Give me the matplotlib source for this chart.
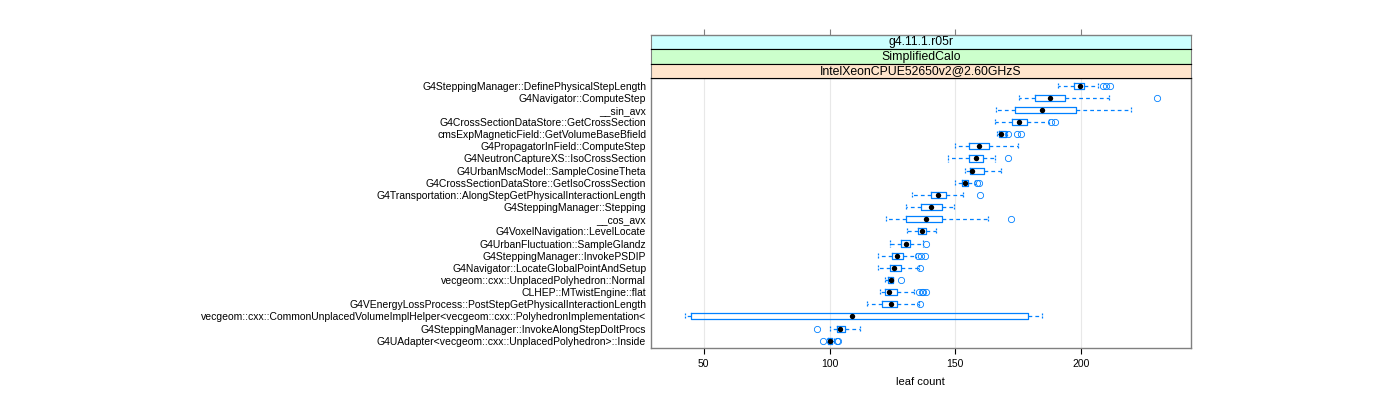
import numpy as np
import matplotlib
matplotlib.use('Agg')
import matplotlib.pyplot as plt

plt.rcParams['font.family'] = ['Liberation Sans', 'DejaVu Sans']

# function names, top to bottom
functions = [
    'G4SteppingManager::DefinePhysicalStepLength',
    'G4Navigator::ComputeStep',
    '__sin_avx',
    'G4CrossSectionDataStore::GetCrossSection',
    'cmsExpMagneticField::GetVolumeBaseBfield',
    'G4PropagatorInField::ComputeStep',
    'G4NeutronCaptureXS::IsoCrossSection',
    'G4UrbanMscModel::SampleCosineTheta',
    'G4CrossSectionDataStore::GetIsoCrossSection',
    'G4Transportation::AlongStepGetPhysicalInteractionLength',
    'G4SteppingManager::Stepping',
    '__cos_avx',
    'G4VoxelNavigation::LevelLocate',
    'G4UrbanFluctuation::SampleGlandz',
    'G4SteppingManager::InvokePSDIP',
    'G4Navigator::LocateGlobalPointAndSetup',
    'vecgeom::cxx::UnplacedPolyhedron::Normal',
    'CLHEP::MTwistEngine::flat',
    'G4VEnergyLossProcess::PostStepGetPhysicalInteractionLength',
    'vecgeom::cxx::CommonUnplacedVolumeImplHelper<vecgeom::cxx::PolyhedronImplementation<',
    'G4SteppingManager::InvokeAlongStepDoItProcs',
    'G4UAdapter<vecgeom::cxx::UnplacedPolyhedron>::Inside',
]

# box stats (leaf count)
whislo = [190.8, 175.3, 166.3, 165.6, 166.7, 149.7, 147.2, 153.7, 150.0, 132.9, 130.2,
          122.6, 130.6, 124.2, 119.4, 119.3, 122.0, 120.2, 115.0, 42.6, 100.1, 99.0]
q1 = [197.0, 181.5, 173.5, 172.6, 167.3, 155.4, 155.5, 156.0, 152.8, 140.2, 136.2,
      130.2, 135.0, 128.4, 124.9, 124.0, 123.4, 122.0, 120.9, 45.0, 103.0, 99.3]
med = [199.4, 187.4, 184.6, 175.4, 168.3, 159.5, 158.2, 156.8, 153.9, 143.2, 140.5,
       138.4, 136.8, 130.2, 127.0, 125.7, 124.5, 123.5, 124.5, 108.9, 104.2, 100.1]
q3 = [201.2, 193.6, 198.1, 178.4, 170.0, 163.4, 161.1, 161.5, 155.1, 146.4, 144.6,
      144.8, 138.4, 131.8, 129.0, 128.4, 125.3, 127.0, 127.0, 178.7, 106.3, 100.8]
whishi = [206.7, 211.1, 219.8, 187.1, 170.5, 175.0, 165.7, 168.3, 157.7, 152.9, 149.6,
          163.0, 142.4, 137.1, 134.3, 135.7, 125.3, 133.6, 135.7, 184.6, 112.0, 101.9]
outliers = [
    [208.5, 209.9, 211.3],
    [230.2],
    [],
    [188.1, 189.5],
    [170.9, 174.3, 176.1],
    [],
    [170.8],
    [],
    [158.4, 159.3],
    [159.8],
    [],
    [172.2],
    [],
    [138.4],
    [135.0, 136.3, 138.0],
    [136.1],
    [128.4],
    [135.7, 136.6, 137.3, 138.2],
    [136.0],
    [],
    [95.1],
    [97.3, 102.8, 103.2],
]

strip_labels = ['g4.11.1.r05r', 'SimplifiedCalo', 'IntelXeonCPUE52650v2@2.60GHzS']
strip_colors = ['#ccffff', '#ccffcc', '#ffe5cc']

blue = '#0080ff'
grey = '#808080'

fig = plt.figure(figsize=(14, 4), dpi=100)

W, H = 1400.0, 400.0
left, right = 651 / W, 1190.7 / W
bottom, top = 1 - 348 / H, 1 - 78.3 / H
strip_h = 14.53 / H

ax = fig.add_axes([left, bottom, right - left, top - bottom])

pos = np.arange(1, len(functions) + 1)
stats = []
for i in range(len(functions)):
    stats.append(dict(whislo=whislo[i], q1=q1[i], med=med[i], q3=q3[i],
                      whishi=whishi[i], fliers=outliers[i]))

ax.bxp(stats, positions=pos, widths=0.5, orientation='horizontal',
       showcaps=True, showfliers=True, capwidths=0.5,
       boxprops=dict(color=blue, lw=0.9),
       whiskerprops=dict(color=blue, lw=0.9, ls=(0, (3, 2.5))),
       capprops=dict(color=blue, lw=0.9, ls=(0, (1.5, 1))),
       medianprops=dict(lw=0),
       flierprops=dict(marker='o', mfc='none', mec=blue, ms=4.5, mew=0.6))
ax.scatter(med, pos, s=15, color='black', zorder=5, lw=0)

ax.set_xlim(29.06, 243.5)
ax.set_ylim(len(functions) + 0.6, 0.4)
ax.set_xticks([50, 100, 150, 200])
ax.set_yticks(pos)
ax.set_yticklabels(functions, fontsize=7.5)
for x in [50, 100, 150, 200]:
    ax.axvline(x, color='#e8e8e8', lw=0.8, zorder=0)
ax.tick_params(axis='y', length=0, pad=3.5)
ax.tick_params(axis='x', length=4, width=0.8, color='black', labelsize=7.5, pad=4)
for s in ax.spines.values():
    s.set_color(grey)
    s.set_linewidth(1.0)
ax.set_xlabel('leaf count', fontsize=8, labelpad=6)

# strips above the panel
for k, (lab, col) in enumerate(zip(strip_labels, strip_colors)):
    sax = fig.add_axes([left, top + (2 - k) * strip_h, right - left, strip_h])
    sax.set_facecolor(col)
    sax.set_xlim(ax.get_xlim())
    sax.set_ylim(0, 1)
    sax.set_yticks([])
    sax.text(0.5, 0.48, lab, transform=sax.transAxes, ha='center', va='center', fontsize=8.8)
    for s in sax.spines.values():
        s.set_color('black')
        s.set_linewidth(0.8)
    if k == 0:
        sax.spines['top'].set_color(grey)
        sax.spines['top'].set_linewidth(1.0)
        sax.set_xticks([50, 100, 150, 200])
        sax.tick_params(axis='x', bottom=False, top=True, labelbottom=False,
                        length=4.5, width=0.8, color=grey)
    else:
        sax.set_xticks([])
    sax.spines['left'].set_color(grey)
    sax.spines['right'].set_color(grey)

fig.savefig('out.png', dpi=100)
